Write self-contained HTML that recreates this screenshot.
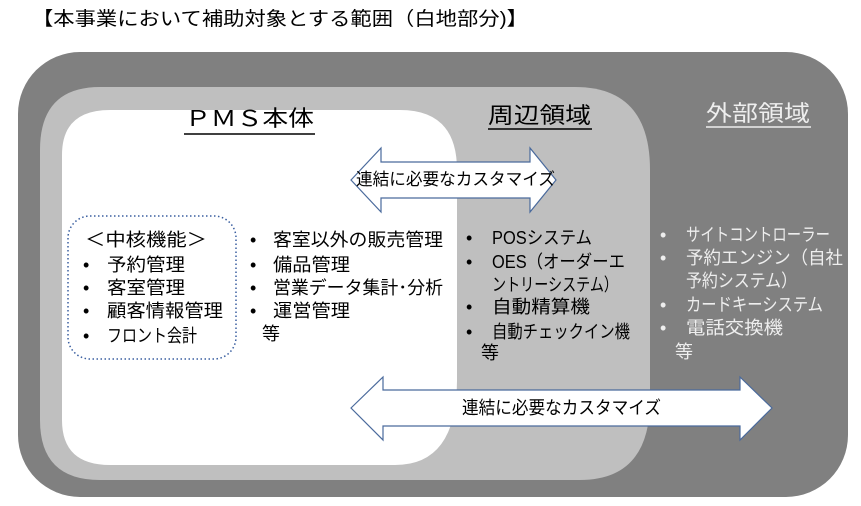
<!DOCTYPE html>
<html><head><meta charset="utf-8"><style>
html,body{margin:0;padding:0;background:#fff;}
svg{display:block;}
text{font-family:"Liberation Sans","Noto Sans CJK JP",sans-serif;}
</style></head><body>
<svg width="861" height="506" viewBox="0 0 861 506" xmlns="http://www.w3.org/2000/svg">
<text x="32" y="25" font-size="19" fill="#000" textLength="496" lengthAdjust="spacingAndGlyphs">【本事業において補助対象とする範囲（白地部分)】</text>
<rect x="18" y="52" width="830" height="445" rx="62" ry="62" fill="#808080"/>
<path d="M100,87 H575 Q650,87 650,170 V400 Q650,480 580,480 H100 Q40,480 40,420 V150 Q40,87 100,87 Z" fill="#bfbfbf"/>
<path d="M110,110 H400 Q457,110 457,170 V380 Q457,465 395,465 H110 Q62,465 62,420 V155 Q62,110 110,110 Z" fill="#fff"/>
<text x="185" y="126" font-size="22" fill="#000" textLength="129" lengthAdjust="spacingAndGlyphs">ＰＭＳ本体</text>
<line x1="184" y1="134" x2="315" y2="134" stroke="#000" stroke-width="1.5"/>
<text x="488" y="123" font-size="22" fill="#000" textLength="103" lengthAdjust="spacingAndGlyphs">周辺領域</text>
<line x1="488" y1="129" x2="592" y2="129" stroke="#000" stroke-width="1.5"/>
<text x="706" y="121" font-size="22" fill="#eee" textLength="104" lengthAdjust="spacingAndGlyphs">外部領域</text>
<line x1="706" y1="127" x2="811" y2="127" stroke="#eee" stroke-width="1.5"/>
<path d="M351,180 L381,148 V162 H530 V148 L556,180 L530,212 V198 H381 V212 Z" fill="#fff" stroke="#4a6a9c" stroke-width="1.2"/>
<text x="356" y="185" font-size="17" fill="#000" textLength="199" lengthAdjust="spacingAndGlyphs">連結に必要なカスタマイズ</text>
<path d="M351,408 L383,377 V390 H740 V377 L772,408 L740,440 V426 H383 V440 Z" fill="#fff" stroke="#4a6a9c" stroke-width="1.2"/>
<text x="462" y="414" font-size="18" fill="#000" textLength="199" lengthAdjust="spacingAndGlyphs">連結に必要なカスタマイズ</text>
<rect x="68" y="216" width="168" height="143" rx="22" fill="none" stroke="#3a5fa0" stroke-width="1.5" stroke-dasharray="1.5 2.5"/>
<g font-size="18" fill="#000">
<text x="85" y="246" textLength="122" lengthAdjust="spacingAndGlyphs">＜中核機能＞</text>
<text x="83" y="271">•</text><text x="107" y="271" textLength="78" lengthAdjust="spacingAndGlyphs">予約管理</text>
<text x="83" y="294">•</text><text x="107" y="294" textLength="78" lengthAdjust="spacingAndGlyphs">客室管理</text>
<text x="83" y="317">•</text><text x="107" y="317" textLength="116" lengthAdjust="spacingAndGlyphs">顧客情報管理</text>
<text x="83" y="342">•</text><text x="107" y="342" textLength="90" lengthAdjust="spacingAndGlyphs">フロント会計</text>
<text x="250" y="246">•</text><text x="273" y="246" textLength="170" lengthAdjust="spacingAndGlyphs">客室以外の販売管理</text>
<text x="250" y="271">•</text><text x="273" y="271" textLength="77" lengthAdjust="spacingAndGlyphs">備品管理</text>
<text x="250" y="294">•</text><text x="273" y="294" textLength="170" lengthAdjust="spacingAndGlyphs">営業データ集計･分析</text>
<text x="250" y="317">•</text><text x="273" y="317" textLength="77" lengthAdjust="spacingAndGlyphs">運営管理</text>
<text x="262" y="340">等</text>
<text x="466" y="244">•</text><text x="492" y="244" textLength="100" lengthAdjust="spacingAndGlyphs">POSシステム</text>
<text x="466" y="268">•</text><text x="492" y="268" textLength="133" lengthAdjust="spacingAndGlyphs">OES（オーダーエ</text>
<text x="492" y="291" textLength="126" lengthAdjust="spacingAndGlyphs">ントリーシステム）</text>
<text x="466" y="313">•</text><text x="492" y="313" textLength="98" lengthAdjust="spacingAndGlyphs">自動精算機</text>
<text x="466" y="338">•</text><text x="492" y="338" textLength="138" lengthAdjust="spacingAndGlyphs">自動チェックイン機</text>
<text x="481" y="359">等</text>
</g>
<g font-size="18" fill="#eee">
<text x="660" y="241">•</text><text x="686" y="241" textLength="144" lengthAdjust="spacingAndGlyphs">サイトコントローラー</text>
<text x="660" y="264">•</text><text x="686" y="264" textLength="157" lengthAdjust="spacingAndGlyphs">予約エンジン（自社</text>
<text x="686" y="287" textLength="111" lengthAdjust="spacingAndGlyphs">予約システム）</text>
<text x="660" y="311">•</text><text x="686" y="311" textLength="137" lengthAdjust="spacingAndGlyphs">カードキーシステム</text>
<text x="660" y="334">•</text><text x="686" y="334" textLength="97" lengthAdjust="spacingAndGlyphs">電話交換機</text>
<text x="675" y="358">等</text>
</g>
</svg>
</body></html>
